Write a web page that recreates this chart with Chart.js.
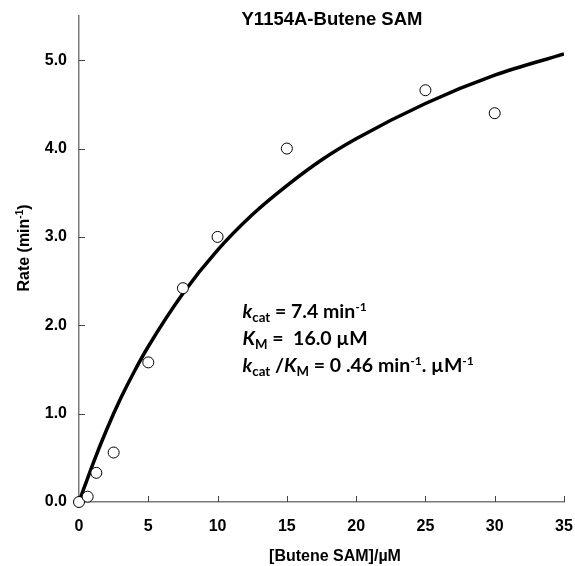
<!DOCTYPE html>
<html>
<head>
<meta charset="utf-8">
<script src="https://cdn.jsdelivr.net/npm/chart.js@4.4.0/dist/chart.umd.min.js"></script>
<style>
  html, body { margin: 0; padding: 0; background: #fff; }
  #wrap { width: 575px; height: 566px; position: relative; }
</style>
</head>
<body>
<div id="wrap"><canvas id="mm"></canvas></div>
<script>
// measured rates
const substrate = [0, 0.625, 1.25, 2.5, 5, 7.5, 10, 15, 25, 30];
const rate = [0.0, 0.06, 0.33, 0.56, 1.58, 2.42, 3.0, 4.0, 4.66, 4.40];

// fitted curve
const fitX = [0, 1, 2, 3, 4, 5, 7.5, 10, 12.5, 15, 17.5, 20, 25, 30, 35];
const fitY = [0, 0.43, 0.82, 1.17, 1.48, 1.76, 2.36, 2.85, 3.25, 3.58, 3.87, 4.11, 4.51, 4.83, 5.07];

const xTicks = [0, 5, 10, 15, 20, 25, 30, 35];
const yTicks = [0, 1, 2, 3, 4, 5];

const TITLE = 'Y1154A-Butene SAM';
const AXIS_COLOR = '#7a7a7a';
const ARIAL = '"Liberation Sans", Arial, sans-serif';
const CALIBRI = 'Lato, "Open Sans", sans-serif';

// annotation lines: [text, kind] kind: n normal, i italic, b sub, p sup
const annotLines = [
    [['k', 'i'], ['cat', 'b'], [' = 7.4 min', 'n'], ['-1', 'p']],
    [['K', 'i'], ['M', 'b'], [' =  16.0 \u00b5M', 'n']],
    [['k', 'i'], ['cat', 'b'], [' /', 'n'], ['K', 'i'], ['M', 'b'], [' = 0 .46 min', 'n'], ['-1', 'p'], ['. \u00b5M', 'n'], ['-1', 'p']]
];

function drawRich(ctx, parts, x, y, size) {
    parts.forEach(([t, k]) => {
        let fs = size, dy = 0, style = '';
        if (k === 'i') style = 'italic ';
        if (k === 'b') { fs = size * 0.68; dy = size * 0.22; }
        if (k === 'p') { fs = size * 0.62; dy = -size * 0.38; }
        ctx.font = style + 'bold ' + fs + 'px ' + CALIBRI;
        ctx.fillText(t, x, y + dy);
        x += ctx.measureText(t).width;
    });
}

const decor = {
    id: 'decor',
    afterDraw(chart) {
        const ctx = chart.ctx;
        const xs = chart.scales.x, ys = chart.scales.y;
        const area = chart.chartArea;
        ctx.save();
        // inward tick marks
        ctx.strokeStyle = '#444';
        ctx.lineWidth = 1;
        ctx.beginPath();
        xTicks.forEach(v => {
            const px = Math.round(xs.getPixelForValue(v)) + 0.5;
            if (v === 0) return;
            ctx.moveTo(px, area.bottom);
            ctx.lineTo(px, area.bottom - 6);
        });
        yTicks.forEach(v => {
            const py = Math.round(ys.getPixelForValue(v)) + 0.5;
            if (v === 0) return;
            ctx.moveTo(area.left, py);
            ctx.lineTo(area.left + 6, py);
        });
        ctx.stroke();

        // chart title
        ctx.fillStyle = '#000';
        ctx.textAlign = 'center';
        ctx.textBaseline = 'alphabetic';
        ctx.font = 'bold 18.5px ' + ARIAL;
        ctx.fillText(TITLE, 332, 25);

        // x title
        ctx.font = 'bold 16px ' + ARIAL;
        ctx.fillText('[Butene SAM]/\u00b5M', 335, 561);

        // y title, rotated, with superscript
        ctx.translate(29, 248);
        ctx.rotate(-Math.PI / 2);
        ctx.textAlign = 'left';
        const a = 'Rate (min', sup = '-1', b = ')';
        ctx.font = 'bold 16px ' + ARIAL;
        const wa = ctx.measureText(a).width, wb = ctx.measureText(b).width;
        ctx.font = 'bold 10px ' + ARIAL;
        const ws = ctx.measureText(sup).width;
        let x0 = -(wa + ws + wb) / 2;
        ctx.font = 'bold 16px ' + ARIAL;
        ctx.fillText(a, x0, 0);
        ctx.font = 'bold 10px ' + ARIAL;
        ctx.fillText(sup, x0 + wa, -6);
        ctx.font = 'bold 16px ' + ARIAL;
        ctx.fillText(b, x0 + wa + ws, 0);
        ctx.setTransform(1, 0, 0, 1, 0, 0);

        // kinetic constants
        ctx.textAlign = 'left';
        const ax = xs.getPixelForValue(11.8);
        const ay = ys.getPixelForValue(2.08);
        annotLines.forEach((parts, i) => drawRich(ctx, parts, ax, ay + i * 27, 19.5));
        ctx.restore();
    }
};

new Chart(document.getElementById('mm'), {
    type: 'scatter',
    data: {
        datasets: [
            {
                type: 'line',
                data: fitX.map((x, i) => ({ x: x, y: fitY[i] })),
                borderColor: '#000',
                borderWidth: 3.5,
                pointRadius: 0,
                fill: false,
                cubicInterpolationMode: 'monotone',
                order: 2
            },
            {
                data: substrate.map((x, i) => ({ x: x, y: rate[i] })),
                pointRadius: 5.5,
                pointBorderWidth: 1,
                pointBorderColor: '#000',
                pointBackgroundColor: '#fff',
                clip: false,
                order: 1
            }
        ]
    },
    options: {
        responsive: true,
        maintainAspectRatio: false,
        animation: false,
        layout: { padding: { top: 16, right: 11, left: 0, bottom: 0 } },
        plugins: { legend: { display: false }, tooltip: { enabled: false } },
        scales: {
            x: {
                type: 'linear',
                min: 0, max: 35,
                afterFit: s => { s.height = 64; s.paddingLeft = 0; s.paddingRight = 0; },
                afterBuildTicks: s => { s.ticks = xTicks.map(v => ({ value: v })); },
                grid: { drawOnChartArea: false, drawTicks: false },
                border: { color: AXIS_COLOR, width: 1.5 },
                ticks: { padding: 15, color: '#000', font: { family: ARIAL, size: 16, weight: 'bold' } }
            },
            y: {
                type: 'linear',
                min: 0, max: 5.5,
                afterFit: s => { s.width = 79; s.paddingTop = 0; s.paddingBottom = 0; },
                afterBuildTicks: s => { s.ticks = yTicks.map(v => ({ value: v })); },
                grid: { drawOnChartArea: false, drawTicks: false },
                border: { color: AXIS_COLOR, width: 1.5 },
                ticks: { padding: 12, color: '#000', callback: v => v.toFixed(1),
                         font: { family: ARIAL, size: 16, weight: 'bold' } }
            }
        }
    },
    plugins: [decor]
});
</script>
</body>
</html>
